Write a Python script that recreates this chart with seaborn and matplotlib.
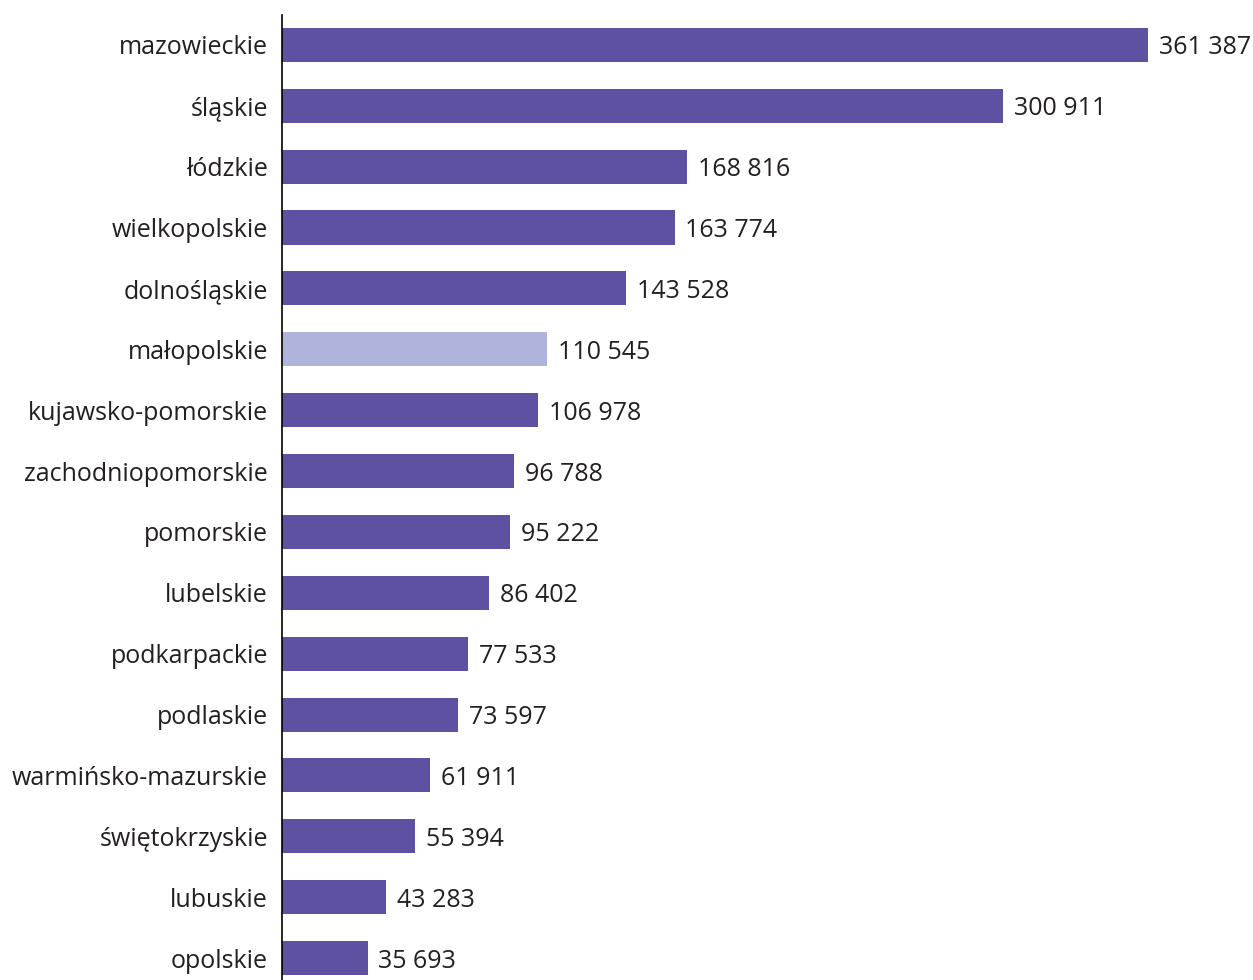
import matplotlib
matplotlib.use("Agg")
import matplotlib.pyplot as plt
import seaborn as sns

# ==================================================
# Data
# ==================================================
regions = [
    "mazowieckie", "śląskie", "łódzkie", "wielkopolskie", "dolnośląskie",
    "małopolskie", "kujawsko-pomorskie", "zachodniopomorskie", "pomorskie",
    "lubelskie", "podkarpackie", "podlaskie", "warmińsko-mazurskie",
    "świętokrzyskie", "lubuskie", "opolskie"
]
values = [
    361387, 300911, 168816, 163774, 143528,
    110545, 106978, 96788, 95222,
    86402, 77533, 73597, 61911,
    55394, 43283, 35693
]
highlight = "małopolskie"

DARK = "#5E51A1"
LIGHT = "#AEB4DA"
TEXT = "#231F20"

# ==================================================
# Plot
# ==================================================
sns.set_style("white")
plt.rcParams["font.family"] = ["Open Sans", "DejaVu Sans"]

fig = plt.figure(figsize=(12.53, 9.8), dpi=100)
ax = fig.add_axes([282 / 1253, 0, 971 / 1253, 965 / 980])

palette = {r: (LIGHT if r == highlight else DARK) for r in regions}

sns.barplot(
    x=values,
    y=regions,
    hue=regions,
    palette=palette,
    legend=False,
    width=0.56,
    saturation=1,
    linewidth=0,
    ax=ax
)

for i, v in enumerate(values):
    ax.text(
        v + 4500, i + 0.05,
        f"{v:,}".replace(",", " "),
        va="center", ha="left",
        fontsize=18, color=TEXT
    )

ax.set_xlim(0, 405000)
ax.set_ylim(15.36, -0.49)

for side in ["top", "right", "bottom"]:
    ax.spines[side].set_visible(False)
ax.spines["left"].set_color("black")
ax.spines["left"].set_linewidth(1.2)

ax.set_xticks([])
ax.set_xlabel("")
ax.set_ylabel("")
ax.tick_params(axis="y", length=0, pad=10, labelsize=18, labelcolor=TEXT)

fig.savefig("out.png", dpi=100)
